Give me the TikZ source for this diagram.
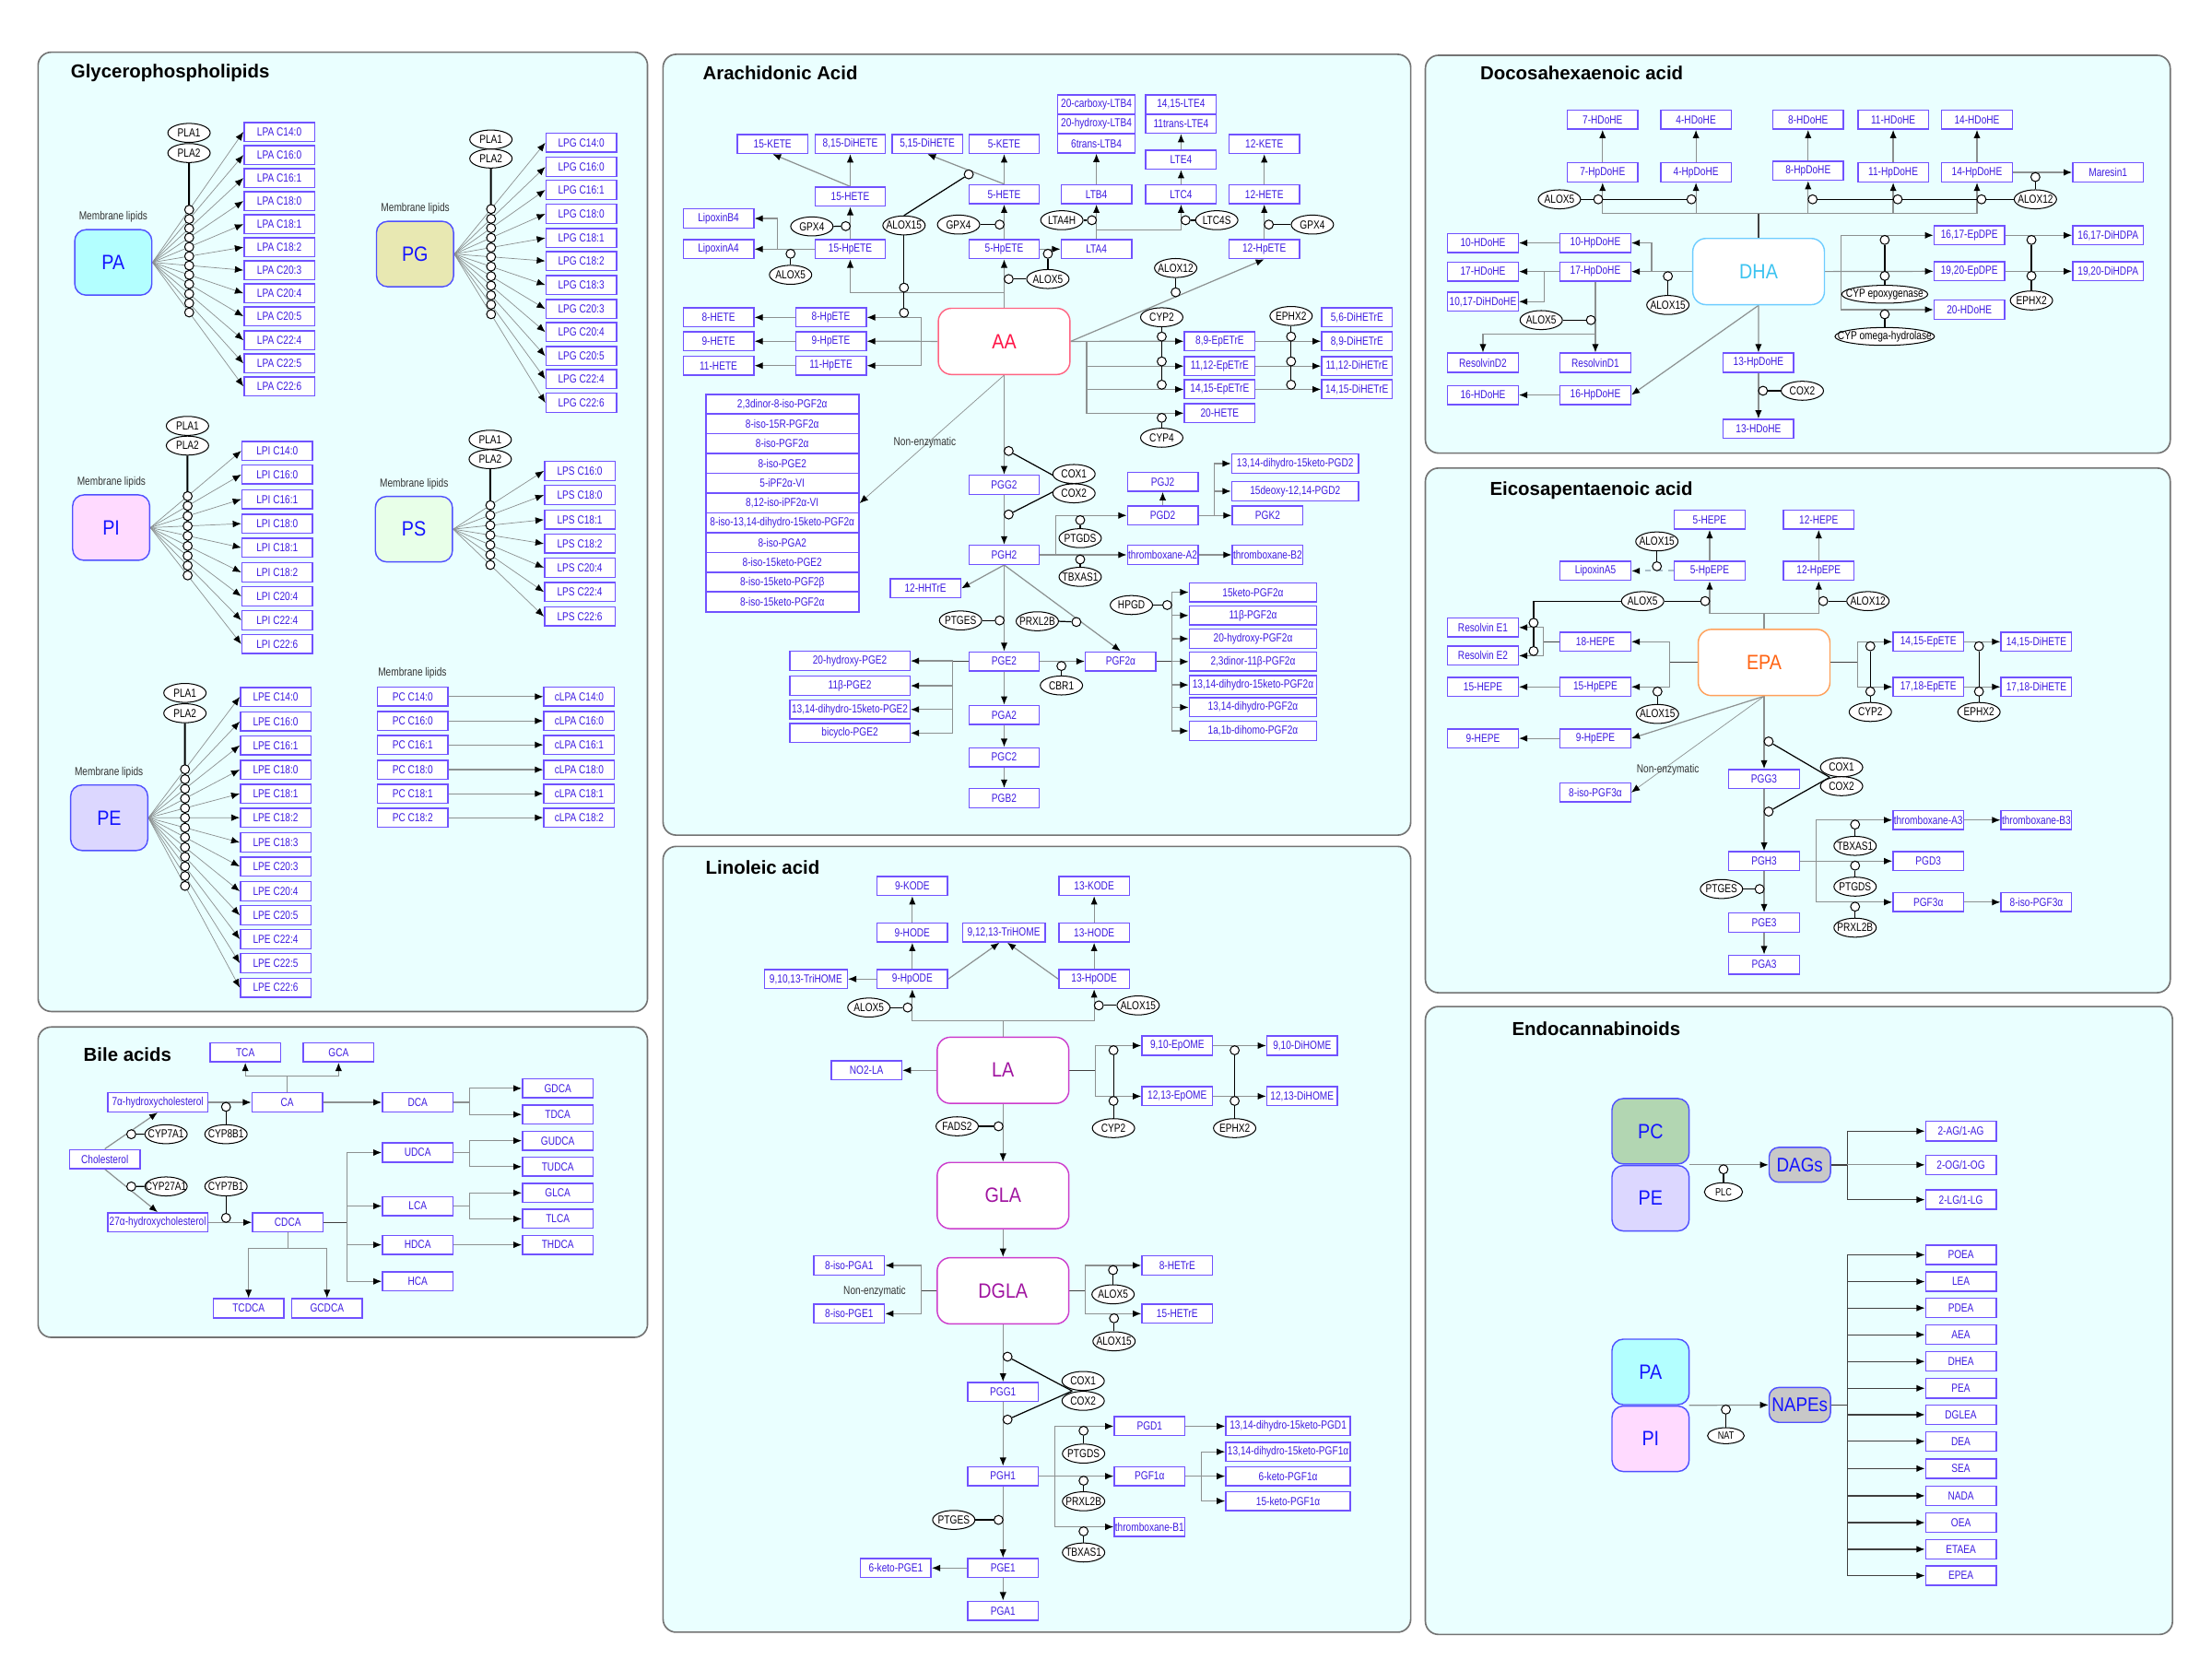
\documentclass[tikz,border=0pt]{standalone}
\usepackage{fontspec}
\setmainfont{Liberation Sans}
\newfontfamily\nrwf{Liberation Sans}[FakeStretch=0.8]
\newfontfamily\bigff{Liberation Sans}[FakeStretch=0.88]
\usetikzlibrary{arrows.meta,shapes.geometric,calc}
\pgfdeclarelayer{panl}
\pgfdeclarelayer{bgl}
\pgfsetlayers{panl,bgl,main}
\definecolor{bxc}{RGB}{112,82,255}
\definecolor{txc}{RGB}{62,28,225}
\definecolor{lnc}{RGB}{140,145,145}
\definecolor{lnd}{RGB}{170,190,200}
\definecolor{pnf}{RGB}{234,255,255}
\definecolor{pnb}{RGB}{115,115,115}
\definecolor{bigb}{RGB}{80,80,255}
\definecolor{bigt}{RGB}{20,20,255}
\definecolor{cPA}{RGB}{179,255,255}
\definecolor{cPG}{RGB}{232,232,178}
\definecolor{cPI}{RGB}{255,218,255}
\definecolor{cPS}{RGB}{232,255,232}
\definecolor{cPE}{RGB}{220,215,255}
\definecolor{cPC}{RGB}{178,214,178}
\definecolor{cDAG}{RGB}{200,200,200}
\definecolor{aab}{RGB}{255,100,130}
\definecolor{aat}{RGB}{255,20,70}
\definecolor{lab}{RGB}{204,60,204}
\definecolor{lat}{RGB}{160,20,160}
\definecolor{dhab}{RGB}{110,205,255}
\definecolor{dhat}{RGB}{60,195,240}
\definecolor{epab}{RGB}{255,160,90}
\definecolor{epat}{RGB}{255,100,20}
\newcommand\bxf{\nrwf\fontsize{6.2}{7}\selectfont}
\newcommand\smf{\nrwf\fontsize{5.6}{6.5}\selectfont}
\newcommand\bigf{\bigff\fontsize{11}{13}\selectfont}
\newcommand\midf{\bigff\fontsize{10.5}{12}\selectfont}
\newcommand\ttlf{\bfseries\fontsize{10}{12}\selectfont}
\newcommand\mz[1]{\makebox[0pt]{#1}}
\begin{document}
\begin{tikzpicture}[x=0.75pt,y=-0.75pt,
  bx/.style={rectangle,draw=bxc,line width=0.7pt,fill=white,text=txc,font=\bxf,inner sep=0.3pt,minimum width=37.5pt,minimum height=10.1pt},
  wd/.style={minimum width=#1*0.75pt},
  hd/.style={minimum height=#1*0.75pt},
  en/.style={ellipse,draw=black,line width=0.5pt,fill=white,font=\bxf,text=black,inner sep=0pt,minimum width=22.5pt,minimum height=10.1pt},
  cc/.style={circle,draw=black,line width=0.5pt,fill=white,inner sep=0pt,minimum size=4.8pt},
  ln/.style={draw=lnc,line width=0.6pt},
  rx/.style={draw=lnc,line width=0.6pt,-{Latex[length=4.5pt,width=3.6pt,color=black]}},
  rxk/.style={draw=black!75,line width=0.6pt,-{Latex[length=4.5pt,width=3.6pt,color=black]}},
  lnk/.style={draw=black!75,line width=0.7pt},
  rxt/.style={draw=lnc,line width=0.35pt,-{Latex[length=4.5pt,width=3.6pt,color=black]}},
  rxd/.style={draw=lnd,line width=1pt,dashed,-{Latex[length=4.5pt,width=3.6pt,color=black]}},
  cat/.style={draw=black,line width=0.6pt},
  vk/.style={draw=black,line width=1pt},
  big/.style={rectangle,rounded corners=6pt,draw=bigb,line width=0.7pt,text=bigt,font=\bigf,inner sep=0pt,minimum width=41pt,minimum height=34.8pt},
  fa/.style={rectangle,rounded corners=7pt,line width=0.7pt,fill=white,font=\bigf,inner sep=0pt,minimum width=70pt,minimum height=35.2pt},
  pan/.style={draw=pnb,fill=pnf,rounded corners=7pt,line width=0.8pt},
  ttl/.style={font=\ttlf,anchor=west,inner sep=0pt},
  mem/.style={font=\bxf,text=black!80,inner sep=0pt},
]
\useasboundingbox (0,0) rectangle (1568,1176);
\begin{pgfonlayer}{panl}
\fill[white] (0,0) rectangle (1568,1176);
\draw[pan] (27,37) rectangle (459,717);
\draw[pan] (27,728) rectangle (459,948);
\draw[pan] (470,38.5) rectangle (1000,592);
\draw[pan] (470,600) rectangle (1000,1157);
\draw[pan] (1010.4,39.2) rectangle (1538.4,321.2);
\draw[pan] (1010.4,331.8) rectangle (1538.4,703.7);
\draw[pan] (1010.4,713.5) rectangle (1540,1158.6);
\end{pgfonlayer}

% ================= Glycerophospholipids
\node[ttl] (tG) at (50,51.5) {Glycerophospholipids};
% PA
\node[mem] (mPA) at (80.3,153.7) {Membrane lipids};
\node[big,fill=cPA] (PA) at (80.3,186) {PA};
\node[en] (pla1a) at (134,94.2) {\mz{PLA1}};
\node[en] (pla2a) at (134,108.5) {\mz{PLA2}};
\foreach \yy/\lab [count=\i] in {93.5/C14:0,109.9/C16:0,126.2/C16:1,142.5/C18:0,158.9/C18:1,175.2/C18:2,191.5/C20:3,207.9/C20:4,224.2/C20:5,241.2/C22:4,257.6/C22:5,273.9/C22:6}{
  \node[bx] (lpa\i) at (198,\yy) {LPA \lab};
  \begin{pgfonlayer}{bgl}\draw[rxt] (PA.east) -- (lpa\i.west);\end{pgfonlayer}
  \node[cc] (lpac\i) at ($(PA.east)!0.4037!(lpa\i.west)$) {};
}
\begin{pgfonlayer}{bgl}\draw[vk] (pla2a.south) -- (lpac12.center);\end{pgfonlayer}
% PG
\node[mem] (mPG) at (294.4,147.9) {Membrane lipids};
\node[big,fill=cPG] (PG) at (294.2,180.1) {PG};
\node[en] (pla1b) at (348,98.9) {\mz{PLA1}};
\node[en] (pla2b) at (348,112.4) {\mz{PLA2}};
\foreach \yy/\lab [count=\i] in {101.2/C14:0,118.3/C16:0,134.6/C16:1,151.6/C18:0,168.7/C18:1,185/C18:2,202/C18:3,219/C20:3,235.4/C20:4,252.4/C20:5,268.7/C22:4,285.5/C22:6}{
  \node[bx] (lpg\i) at (412,\yy) {LPG \lab};
  \begin{pgfonlayer}{bgl}\draw[rxt] (PG.east) -- (lpg\i.west);\end{pgfonlayer}
  \node[cc] (lpgc\i) at ($(PG.east)!0.4046!(lpg\i.west)$) {};
}
\begin{pgfonlayer}{bgl}\draw[vk] (pla2b.south) -- (lpgc12.center);\end{pgfonlayer}
% PI
\node[mem] (mPI) at (79,341.8) {Membrane lipids};
\node[big,fill=cPI] (PI) at (78.8,374) {PI};
\node[en] (pla1c) at (132.9,301.9) {\mz{PLA1}};
\node[en] (pla2c) at (132.9,315.9) {\mz{PLA2}};
\foreach \yy/\lab [count=\i] in {319.6/C14:0,336.4/C16:0,353.9/C16:1,371.2/C18:0,388.2/C18:1,405.7/C18:2,422.7/C20:4,439.7/C22:4,456.6/C22:6}{
  \node[bx] (lpi\i) at (196.5,\yy) {LPI \lab};
  \begin{pgfonlayer}{bgl}\draw[rxt] (PI.east) -- (lpi\i.west);\end{pgfonlayer}
  \node[cc] (lpic\i) at ($(PI.east)!0.41!(lpi\i.west)$) {};
}
\begin{pgfonlayer}{bgl}\draw[vk] (pla2c.south) -- (lpic9.center);\end{pgfonlayer}
% PS
\node[mem] (mPS) at (293.5,343) {Membrane lipids};
\node[big,fill=cPS] (PS) at (293.4,375.1) {PS};
\node[en] (pla1d) at (347.5,311.7) {\mz{PLA1}};
\node[en] (pla2d) at (347.5,325.5) {\mz{PLA2}};
\foreach \yy/\lab [count=\i] in {333.8/C16:0,350.9/C18:0,368.4/C18:1,385.4/C18:2,402.4/C20:4,419.6/C22:4,437/C22:6}{
  \node[bx] (lps\i) at (411,\yy) {LPS \lab};
  \begin{pgfonlayer}{bgl}\draw[rxt] (PS.east) -- (lps\i.west);\end{pgfonlayer}
  \node[cc] (lpsc\i) at ($(PS.east)!0.41!(lps\i.west)$) {};
}
\begin{pgfonlayer}{bgl}\draw[vk] (pla2d.south) -- (lpsc7.center);\end{pgfonlayer}
% PE
\node[mem] (mPE) at (77.2,547.6) {Membrane lipids};
\node[big,fill=cPE] (PE) at (77.4,579.7) {PE};
\node[en] (pla1e) at (131.1,491.2) {\mz{PLA1}};
\node[en] (pla2e) at (131.1,505.6) {\mz{PLA2}};
\foreach \yy/\lab [count=\i] in {494/C14:0,511.5/C16:0,528.4/C16:1,545.6/C18:0,562.6/C18:1,579.6/C18:2,597.2/C18:3,614.2/C20:3,631.8/C20:4,648.8/C20:5,665.7/C22:4,682.7/C22:5,700.1/C22:6}{
  \node[bx] (lpe\i) at (195.4,\yy) {LPE \lab};
  \begin{pgfonlayer}{bgl}\draw[rxt] (PE.east) -- (lpe\i.west);\end{pgfonlayer}
  \node[cc] (lpec\i) at ($(PE.east)!0.401!(lpe\i.west)$) {};
}
\begin{pgfonlayer}{bgl}\draw[vk] (pla2e.south) -- (lpec13.center);\end{pgfonlayer}
% PC -> cLPA
\node[mem] (mPC) at (292.3,476.9) {Membrane lipids};
\foreach \yy/\lab [count=\i] in {493.8/C14:0,511/C16:0,528/C16:1,545.6/C18:0,562.6/C18:1,579.6/C18:2}{
  \node[bx] (pc\i) at (292.5,\yy) {PC \lab};
  \node[bx] (clpa\i) at (410.6,\yy) {cLPA \lab};
  \begin{pgfonlayer}{bgl}\draw[rx] (pc\i.east) -- (clpa\i.west);\end{pgfonlayer}
}

% ================= Bile acids
\node[ttl] (tB) at (59,747.6) {Bile acids};
\node[bx] (TCA) at (173.9,746) {TCA};
\node[bx] (GCA) at (240,746) {GCA};
\node[bx] (CA) at (203.6,781.4) {CA};
\node[bx,wd=71] (h7) at (111.8,781.4) {7α-hydroxycholesterol};
\node[bx] (chol) at (74.3,821.6) {Cholesterol};
\node[bx,wd=71] (h27) at (111.8,866.5) {27α-hydroxycholesterol};
\node[bx] (CDCA) at (204,866.5) {CDCA};
\node[en] (cyp7a1) at (117.7,804) {\mz{CYP7A1}};
\node[en] (cyp27a1) at (117.7,841) {\mz{CYP27A1}};
\node[en] (cyp8b1) at (160.2,804) {\mz{CYP8B1}};
\node[en] (cyp7b1) at (160.2,841) {\mz{CYP7B1}};
\node[bx] (DCA) at (296.1,781.4) {DCA};
\node[bx] (UDCA) at (296.1,817) {UDCA};
\node[bx] (LCA) at (296.1,854.9) {LCA};
\node[bx] (HDCA) at (296.1,882.4) {HDCA};
\node[bx] (HCA) at (296.1,908.3) {HCA};
\node[bx] (GDCA) at (395.4,771.5) {GDCA};
\node[bx] (TDCA) at (395.4,790) {TDCA};
\node[bx] (GUDCA) at (395.4,808.6) {GUDCA};
\node[bx] (TUDCA) at (395.4,827) {TUDCA};
\node[bx] (GLCA) at (395.4,845.6) {GLCA};
\node[bx] (TLCA) at (395.4,864) {TLCA};
\node[bx] (THDCA) at (395.4,882.4) {THDCA};
\node[bx] (TCDCA) at (176.2,927.4) {TCDCA};
\node[bx] (GCDCA) at (231.8,927.4) {GCDCA};
\node[cc] (cb1) at ($(chol.north)!0.5!(h7.south)+(0,2.5)$) {};
\node[cc] (cb2) at ($(chol.south)!0.5!(h27.north)+(0,-3)$) {};
\node[cc] (cb3) at (160.2,784.6) {};
\node[cc] (cb4) at (160.2,863.3) {};
\begin{pgfonlayer}{bgl}
\coordinate (caj) at (203.6,762.8);
\draw[ln] (CA.north) -- (caj);
\draw[rx] (caj) -| (TCA.south);
\draw[rx] (caj) -| (GCA.south);
\draw[rx] (h7.east) -- (CA.west);
\draw[rx] (chol.north) -- (h7.south);
\draw[rx] (chol.south) -- (h27.north);
\draw[rx] (h27.east) -- (CDCA.west);
\draw[cat] (cb1) -- (cyp7a1.west);
\draw[cat] (cb2) -- (cyp27a1.west);
\draw[cat] (cb3) -- (cyp8b1.north);
\draw[cat] (cb4) -- (cyp7b1.south);
\draw[rx] (CA.east) -- (DCA.west);
\coordinate (dcj) at (332.8,781.4);
\draw[ln] (DCA.east) -- (dcj);
\draw[rx] (dcj) |- (GDCA.west);
\draw[rx] (dcj) |- (TDCA.west);
\coordinate (udj) at (332.8,817);
\draw[ln] (UDCA.east) -- (udj);
\draw[rx] (udj) |- (GUDCA.west);
\draw[rx] (udj) |- (TUDCA.west);
\coordinate (lcj) at (332.8,854.9);
\draw[ln] (LCA.east) -- (lcj);
\draw[rx] (lcj) |- (GLCA.west);
\draw[rx] (lcj) |- (TLCA.west);
\draw[rx] (HDCA.east) -- (THDCA.west);
\coordinate (cdj) at (245.9,866.5);
\draw[lnk] (CDCA.east) -- (cdj);
\draw[rx] (cdj) |- (UDCA.west);
\draw[rx] (cdj) |- (LCA.west);
\draw[rx] (cdj) |- (HDCA.west);
\draw[rx] (cdj) |- (HCA.west);
\coordinate (cdS) at (204,884.7);
\draw[ln] (CDCA.south) -- (cdS);
\draw[rx] (cdS) -| (TCDCA.north);
\draw[rx] (cdS) -| (GCDCA.north);
\end{pgfonlayer}

% ================= Arachidonic acid
\node[ttl] (tAA) at (498,51.6) {Arachidonic Acid};
\node[bx] (k15) at (547.6,102) {15-KETE};
\node[bx] (dh815) at (602.7,102) {8,15-DiHETE};
\node[bx] (dh515) at (657.3,102) {5,15-DiHETE};
\node[bx] (k5) at (711.8,102) {5-KETE};
\node[bx,wd=55] (cLTB4) at (777.2,73.9) {20-carboxy-LTB4};
\node[bx,wd=55] (hLTB4) at (777.2,87.7) {20-hydroxy-LTB4};
\node[bx,wd=55] (tLTB4) at (777.2,101.7) {6trans-LTB4};
\node[bx] (lte1415) at (837.2,73.9) {14,15-LTE4};
\node[bx] (lte11) at (837.2,87.7) {11trans-LTE4};
\node[bx] (LTE4) at (837.2,113.2) {LTE4};
\node[bx] (k12) at (896.2,102) {12-KETE};
\node[bx] (h15) at (602.7,139.4) {15-HETE};
\node[bx] (h5) at (711.8,137.7) {5-HETE};
\node[bx] (LTB4) at (777.2,137.7) {LTB4};
\node[bx] (LTC4) at (837.2,137.7) {LTC4};
\node[bx] (h12) at (896.2,137.7) {12-HETE};
\node[bx] (LxB4) at (509.3,154.9) {LipoxinB4};
\node[bx] (LxA4) at (509.3,176.6) {LipoxinA4};
\node[bx] (hp15) at (602.7,176.6) {15-HpETE};
\node[bx] (hp5) at (711.8,176.6) {5-HpETE};
\node[bx] (LTA4) at (777.2,176.6) {LTA4};
\node[bx] (hp12) at (896.2,176.6) {12-HpETE};
\node[bx] (h8) at (509.3,225) {8-HETE};
\node[bx] (h9) at (509.3,241.9) {9-HETE};
\node[bx] (h11) at (509.3,259.2) {11-HETE};
\node[bx] (hp8) at (589,225) {8-HpETE};
\node[bx] (hp9) at (589,241.9) {9-HpETE};
\node[bx] (hp11) at (589,259.2) {11-HpETE};
\node[fa,draw=aab,text=aat] (AA) at (711.8,242) {AA};
\node[bx] (dh56) at (961.9,225) {5,6-DiHETrE};
\node[bx] (ep89) at (864.6,241.9) {8,9-EpETrE};
\node[bx] (dh89) at (961.9,241.9) {8,9-DiHETrE};
\node[bx] (ep1112) at (864.6,259.5) {11,12-EpETrE};
\node[bx] (dh1112) at (961.9,259.5) {11,12-DiHETrE};
\node[bx] (ep1415) at (864.6,276) {14,15-EpETrE};
\node[bx] (dh1415) at (961.9,276) {14,15-DiHETrE};
\node[bx] (h20) at (864.6,292.9) {20-HETE};
\node[en] (gpx4a) at (575.5,160.5) {\mz{GPX4}};
\node[en] (alox15a) at (640.8,159.8) {\mz{ALOX15}};
\node[en] (gpx4b) at (679.5,159.2) {\mz{GPX4}};
\node[en] (lta4h) at (752.7,156.1) {\mz{LTA4H}};
\node[en] (ltc4s) at (862.5,156.1) {\mz{LTC4S}};
\node[en] (gpx4c) at (930.3,159.2) {\mz{GPX4}};
\node[en] (alox5a) at (560.4,194.8) {\mz{ALOX5}};
\node[en] (alox5b) at (742.8,197.8) {\mz{ALOX5}};
\node[en] (alox12a) at (833.4,190) {\mz{ALOX12}};
\node[en] (cyp2a) at (823.5,224.9) {\mz{CYP2}};
\node[en] (ephx2a) at (915.2,224) {\mz{EPHX2}};
\node[en] (cyp4a) at (823.5,310.3) {\mz{CYP4}};
\node[cc] (ca1) at (640.8,203.9) {};
\node[cc] (ca2) at (640.8,221.7) {};
\node[cc] (ca3) at (686.7,123.6) {};
\node[cc] (ca4) at (599.5,160.3) {};
\node[cc] (ca5) at (560.4,179.9) {};
\node[cc] (ca6) at (708.6,159.2) {};
\node[cc] (ca7) at (742.8,179.9) {};
\node[cc] (ca8) at (715,197.8) {};
\node[cc] (ca9) at (774,156.1) {};
\node[cc] (ca10) at (840.4,156.1) {};
\node[cc] (ca11) at (899.4,159.2) {};
\node[cc] (ca12) at (833.4,207.2) {};
\node[cc] (cy1) at (823.5,238.6) {};
\node[cc] (cy2) at (823.5,256.2) {};
\node[cc] (cy3) at (823.5,272.7) {};
\node[cc] (cy4) at (823.5,296.2) {};
\node[cc] (eh1) at (915.2,238.6) {};
\node[cc] (eh2) at (915.2,256.2) {};
\node[cc] (eh3) at (915.2,272.7) {};
% lower AA
\foreach \yy/\lab [count=\i] in {286.6/{2,3dinor-8-iso-PGF2α},300.7/{8-iso-15R-PGF2α},314.4/{8-iso-PGF2α},328.8/{8-iso-PGE2},342.5/{5-iPF2α-VI},356.7/{8,12-iso-iPF2α-VI},370.6/{8-iso-13,14-dihydro-15keto-PGF2α},384.7/{8-iso-PGA2},398.7/{8-iso-15keto-PGE2},412.8/{8-iso-15keto-PGF2β},426.7/{8-iso-15keto-PGF2α}}{
  \node[bx,wd=108.5,hd=14,line width=0.9pt] (iso\i) at (554.5,\yy) {\lab};
}
\node[mem] (nenz1) at (655.5,313.6) {Non-enzymatic};
\node[bx] (PGG2) at (711.8,343.6) {PGG2};
\node[en] (cox1a) at (761.3,336) {\mz{COX1}};
\node[en] (cox2a) at (761.3,349.7) {\mz{COX2}};
\node[bx] (PGH2) at (711.8,393.3) {PGH2};
\node[bx] (PGJ2) at (824.2,341.5) {PGJ2};
\node[bx] (PGD2) at (824.2,365.4) {PGD2};
\node[bx,wd=90] (d2a) at (918.1,328.6) {13,14-dihydro-15keto-PGD2};
\node[bx,wd=90] (d2b) at (918.1,348.2) {15deoxy-12,14-PGD2};
\node[bx] (PGK2) at (898.6,365.4) {PGK2};
\node[bx] (txA2) at (824.2,393.3) {thromboxane-A2};
\node[bx] (txB2) at (898.6,393.3) {thromboxane-B2};
\node[en] (ptgds) at (765.7,381.5) {\mz{PTGDS}};
\node[en] (tbxas1) at (765.7,408.9) {\mz{TBXAS1}};
\node[bx] (h12t) at (656,417.1) {12-HHTrE};
\node[en] (ptges) at (680.9,439.8) {\mz{PTGES}};
\node[en] (prxl2b) at (735.3,440.4) {\mz{PRXL2B}};
\node[en] (hpgd) at (802,428.9) {\mz{HPGD}};
\node[bx] (PGE2) at (711.8,468.8) {PGE2};
\node[bx] (PGF2a) at (794.4,468.8) {PGF2α};
\node[en] (cbr1) at (752.4,485.9) {\mz{CBR1}};
\node[bx] (PGA2) at (711.8,506.8) {PGA2};
\node[bx] (PGC2) at (711.8,536.8) {PGC2};
\node[bx] (PGB2) at (711.8,565.8) {PGB2};
\foreach \yy/\lab [count=\i] in {419.8/{15keto-PGF2α},436.3/{11β-PGF2α},452.8/{20-hydroxy-PGF2α},469/{2,3dinor-11β-PGF2α},485.5/{13,14-dihydro-15keto-PGF2α},501.4/{13,14-dihydro-PGF2α},518.1/{1a,1b-dihomo-PGF2α}}{
  \node[bx,wd=90.3] (f2\i) at (888.2,\yy) {\lab};
}
\foreach \yy/\lab [count=\i] in {468.5/{20-hydroxy-PGE2},486.1/{11β-PGE2},502.9/{13,14-dihydro-15keto-PGE2},519.6/{bicyclo-PGE2}}{
  \node[bx,wd=85.2] (e2\i) at (602.4,\yy) {\lab};
}
\node[cc] (cx1) at (715,319.7) {};
\node[cc] (cx2) at (715,364.7) {};
\node[cc] (cpt1) at (765.7,368.7) {};
\node[cc] (ctb1) at (765.7,396.6) {};
\node[cc] (cpg1) at (708.6,439.8) {};
\node[cc] (cpx1) at (763,440.9) {};
\node[cc] (ccb1) at (752.4,472.1) {};
\node[cc] (chp1) at (827.4,428.9) {};
\begin{pgfonlayer}{bgl}
\coordinate (aaN) at (711.8,207.2);
\draw[rx] (AA.north) -- (hp5.south);
\draw[rx] (aaN) -| (hp15.south);
\draw[cat] (alox15a.south) -- (ca2);
\draw[cat] (alox15a.north) -- (ca3);
\draw[rx] (h5.north) -- (dh515.south);
\draw[rx] (h5.north) -- (k5.south);
\draw[rx] (h15.north) -- (k15.south);
\draw[rx] (h15.north) -- (dh815.south);
\draw[rx] (hp15.north) -- (h15.south);
\draw[cat] (gpx4a.east) -- (ca4);
\coordinate (lxj) at (551.2,176.6);
\draw[rx] (hp15.west) -- (LxA4.east);
\draw[rx] (lxj) |- (LxB4.east);
\draw[cat] (alox5a.north) -- (ca5);
\draw[rx] (hp5.north) -- (h5.south);
\draw[cat] (gpx4b.east) -- (ca6);
\draw[rx] (hp5.east) -- (LTA4.west);
\draw[cat] (alox5b.north) -- (ca7);
\draw[cat] (alox5b.west) -- (ca8);
\draw[rx] (LTA4.north) -- (LTB4.south);
\draw[cat] (lta4h.east) -- (ca9);
\coordinate (ltj) at (777.2,163.1);
\draw[rx] (ltj) -| (LTC4.south);
\draw[cat] (ltc4s.west) -- (ca10);
\draw[rx] (LTC4.north) -- (LTE4.south);
\draw[rx] (LTE4.north) -- (lte11.south);
\draw[rx] (LTB4.north) -- (tLTB4.south);
\draw[rx] (hp12.north) -- (h12.south);
\draw[cat] (gpx4c.west) -- (ca11);
\draw[rx] (h12.north) -- (k12.south);
\draw[rx] (AA.east) -- (hp12.south);
\draw[cat] (alox12a.south) -- (ca12);
\coordinate (aaW) at (653.1,242);
\draw[rx] (AA.west) -- (hp9.east);
\draw[rx] (aaW) |- (hp8.east);
\draw[rx] (aaW) |- (hp11.east);
\draw[rx] (hp8.west) -- (h8.east);
\draw[rx] (hp9.west) -- (h9.east);
\draw[rx] (hp11.west) -- (h11.east);
\coordinate (aaE) at (770.2,242);
\draw[rx] (AA.east) -- (ep89.west);
\draw[rx] (aaE) |- (ep1112.west);
\draw[rx] (aaE) |- (ep1415.west);
\draw[rx] (aaE) |- (h20.west);
\draw[cat] (cyp2a.south) -- (cy3);
\draw[cat] (cyp4a.north) -- (cy4);
\draw[rx] (ep89.east) -- (dh89.west);
\draw[rx] (ep1112.east) -- (dh1112.west);
\draw[rx] (ep1415.east) -- (dh1415.west);
\draw[cat] (ephx2a.south) -- (eh3);
\draw[rxt] (AA.south) -- (iso6.east);
\draw[rx] (AA.south) -- (PGG2.north);
\draw[cat] (cx1) -- (757.5,343);
\draw[cat] (cx2) -- (757.5,343);
\draw[rx] (PGG2.south) -- (PGH2.north);
\draw[rx] (PGH2.east) -- (txA2.west);
\coordinate (pgj) at (748.6,393.3);
\draw[rx] (pgj) |- (PGD2.west);
\draw[cat] (ptgds.north) -- (cpt1);
\draw[cat] (tbxas1.north) -- (ctb1);
\draw[rx] (PGD2.north) -- (PGJ2.south);
\coordinate (pdj) at (860.8,365.4);
\draw[rx] (PGD2.east) -- (PGK2.west);
\draw[rx] (pdj) |- (d2a.west);
\draw[rx] (pdj) |- (d2b.west);
\draw[rx] (txA2.east) -- (txB2.west);
\draw[rx] (PGH2.south) -- (h12t.east);
\draw[rx] (PGH2.south) -- (PGE2.north);
\draw[cat] (ptges.east) -- (cpg1);
\draw[rx] (PGH2.south) -- (PGF2a.north);
\draw[cat] (prxl2b.east) -- (cpx1);
\draw[rx] (PGE2.east) -- (PGF2a.west);
\draw[cat] (cbr1.north) -- (ccb1);
\coordinate (pfj) at (830.7,468.8);
\draw[lnk] (PGF2a.east) -- (pfj);
\foreach \i in {1,...,7}{\draw[rx] (pfj) |- (f2\i.west);}
\draw[cat] (hpgd.east) -- (chp1);
\coordinate (pej) at (675.4,468.8);
\draw[lnk] (PGE2.west) -- (pej);
\foreach \i in {1,...,4}{\draw[rx] (pej) |- (e2\i.east);}
\draw[rx] (PGE2.south) -- (PGA2.north);
\draw[rx] (PGA2.south) -- (PGC2.north);
\draw[rx] (PGC2.south) -- (PGB2.north);
\end{pgfonlayer}

% ================= Linoleic acid
\node[ttl] (tLA) at (500,614.8) {Linoleic acid};
\node[bx] (kode9) at (646.7,628) {9-KODE};
\node[bx] (kode13) at (775.6,628) {13-KODE};
\node[bx] (hode9) at (646.7,661) {9-HODE};
\node[bx,wd=58.5] (tri91213) at (711.5,661) {9,12,13-TriHOME};
\node[bx] (hode13) at (775.6,661) {13-HODE};
\node[bx,wd=58.5] (tri91013) at (571.3,694) {9,10,13-TriHOME};
\node[bx] (hpode9) at (646.7,694) {9-HpODE};
\node[bx] (hpode13) at (775.6,694) {13-HpODE};
\node[en] (alox5l) at (615.9,714.2) {\mz{ALOX5}};
\node[en] (alox15l) at (806.8,712.7) {\mz{ALOX15}};
\node[fa,draw=lab,text=lat] (LA) at (711,758.7) {LA};
\node[bx] (no2la) at (614.2,758.7) {NO2-LA};
\node[bx] (ep910) at (834.5,741.2) {9,10-EpOME};
\node[bx] (ep1213) at (834.5,777.1) {12,13-EpOME};
\node[bx] (dh910) at (923,741.2) {9,10-DiHOME};
\node[bx] (dh1213) at (923,777.1) {12,13-DiHOME};
\node[en] (cyp2l) at (789.3,799.7) {\mz{CYP2}};
\node[en] (ephx2l) at (875.2,799.7) {\mz{EPHX2}};
\node[en] (fads2) at (678.5,798.4) {\mz{FADS2}};
\node[fa,draw=lab,text=lat] (GLA) at (711,847.5) {GLA};
\node[fa,draw=lab,text=lat] (DGLA) at (711,915) {DGLA};
\node[bx] (isoPGA1) at (601.9,897) {8-iso-PGA1};
\node[bx] (isoPGE1) at (601.9,931.2) {8-iso-PGE1};
\node[mem] (nenz2) at (620,915.3) {Non-enzymatic};
\node[bx] (hetre8) at (834.5,897) {8-HETrE};
\node[bx] (hetre15) at (834.5,931.2) {15-HETrE};
\node[en] (alox5d) at (789,917.5) {\mz{ALOX5}};
\node[en] (alox15d) at (789.7,950.8) {\mz{ALOX15}};
\node[bx] (PGG1) at (711,986.7) {PGG1};
\node[en] (cox1d) at (767.8,978.9) {\mz{COX1}};
\node[en] (cox2d) at (767.8,993) {\mz{COX2}};
\node[bx] (PGH1) at (711,1046.4) {PGH1};
\node[bx] (PGD1) at (814.9,1011) {PGD1};
\node[bx,wd=88.3] (d1a) at (913.1,1011) {13,14-dihydro-15keto-PGD1};
\node[bx] (PGF1a) at (814.9,1046.4) {PGF1α};
\node[bx,wd=88.3] (f1a) at (913.1,1029.1) {13,14-dihydro-15keto-PGF1α};
\node[bx,wd=88.3] (f1b) at (913.1,1046.4) {6-keto-PGF1α};
\node[bx,wd=88.3] (f1c) at (913.1,1064) {15-keto-PGF1α};
\node[bx] (txB1) at (814.9,1082.3) {thromboxane-B1};
\node[en] (ptgdsd) at (768.1,1030.4) {\mz{PTGDS}};
\node[en] (prxl2bd) at (768.1,1064.2) {\mz{PRXL2B}};
\node[en] (tbxas1d) at (768.1,1100.5) {\mz{TBXAS1}};
\node[en] (ptgesd) at (676.1,1077.4) {\mz{PTGES}};
\node[bx] (PGE1) at (711,1111.5) {PGE1};
\node[bx] (k6pge1) at (635,1111.5) {6-keto-PGE1};
\node[bx] (PGA1) at (711,1141.8) {PGA1};
\node[cc] (cl1) at (643.4,714.2) {};
\node[cc] (cl2) at (778.9,712.7) {};
\node[cc] (cl3) at (789.3,744.5) {};
\node[cc] (cl4) at (789.3,780.4) {};
\node[cc] (cl5) at (875.2,744.5) {};
\node[cc] (cl6) at (875.2,780.4) {};
\node[cc] (cl7) at (707.8,798.4) {};
\node[cc] (cl8) at (789,900.3) {};
\node[cc] (cl9) at (789.7,934.5) {};
\node[cc] (cl10) at (714.2,961.7) {};
\node[cc] (cl11) at (714.2,1006.3) {};
\node[cc] (cl12) at (768.1,1014.2) {};
\node[cc] (cl13) at (768.1,1049.6) {};
\node[cc] (cl14) at (768.1,1085.5) {};
\node[cc] (cl15) at (707.8,1077.4) {};
\begin{pgfonlayer}{bgl}
\coordinate (laN) at (711,723.6);
\draw[ln] (LA.north) -- (laN);
\draw[rx] (laN) -| (hpode9.south);
\draw[rx] (laN) -| (hpode13.south);
\draw[cat] (alox5l.east) -- (cl1);
\draw[cat] (alox15l.west) -- (cl2);
\draw[rx] (hpode9.north) -- (hode9.south);
\draw[rx] (hode9.north) -- (kode9.south);
\draw[rx] (hpode13.north) -- (hode13.south);
\draw[rx] (hode13.north) -- (kode13.south);
\draw[rx] (hpode9.west) -- (tri91013.east);
\draw[rx] (hpode9.east) -- ($(tri91213.south)+(-3,0)$);
\draw[rx] (hpode13.west) -- ($(tri91213.south)+(2.5,0)$);
\draw[rx] (LA.west) -- (no2la.east);
\coordinate (laE) at (776.3,758.7);
\draw[lnk] (LA.east) -- (laE);
\draw[rx] (laE) |- (ep910.west);
\draw[rx] (laE) |- (ep1213.west);
\draw[cat] (cyp2l.north) -- (cl3);
\draw[rx] (ep910.east) -- (dh910.west);
\draw[rx] (ep1213.east) -- (dh1213.west);
\draw[cat] (ephx2l.north) -- (cl5);
\draw[rx] (LA.south) -- (GLA.north);
\draw[cat] (fads2.east) -- (cl7);
\draw[rx] (GLA.south) -- (DGLA.north);
\coordinate (dgW) at (652.8,915);
\draw[lnk] (DGLA.west) -- (dgW);
\draw[rx] (dgW) |- (isoPGA1.east);
\draw[rx] (dgW) |- (isoPGE1.east);
\coordinate (dgE) at (769.5,915);
\draw[lnk] (DGLA.east) -- (dgE);
\draw[rx] (dgE) |- (hetre8.west);
\draw[rx] (dgE) |- (hetre15.west);
\draw[cat] (alox5d.north) -- (cl8);
\draw[cat] (alox15d.north) -- (cl9);
\draw[rx] (DGLA.south) -- (PGG1.north);
\draw[cat] (cl10) -- (760,986);
\draw[cat] (cl11) -- (760,986);
\draw[rx] (PGG1.south) -- (PGH1.north);
\draw[rx] (PGH1.east) -- (PGF1a.west);
\coordinate (p1j) at (747.9,1046.4);
\draw[rx] (p1j) |- (PGD1.west);
\draw[rx] (p1j) |- (txB1.west);
\draw[cat] (ptgdsd.north) -- (cl12);
\draw[cat] (prxl2bd.north) -- (cl13);
\draw[cat] (tbxas1d.north) -- (cl14);
\draw[rx] (PGD1.east) -- (d1a.west);
\coordinate (f1j) at (851.6,1046.4);
\draw[rx] (PGF1a.east) -- (f1b.west);
\draw[rx] (f1j) |- (f1a.west);
\draw[rx] (f1j) |- (f1c.west);
\draw[rx] (PGH1.south) -- (PGE1.north);
\draw[cat] (ptgesd.east) -- (cl15);
\draw[rx] (PGE1.west) -- (k6pge1.east);
\draw[rx] (PGE1.south) -- (PGA1.north);
\end{pgfonlayer}

% ================= DHA
\node[ttl] (tDHA) at (1049.1,51.6) {Docosahexaenoic acid};
\node[bx] (hd7) at (1136,84.8) {7-HDoHE};
\node[bx] (hd4) at (1202.2,84.8) {4-HDoHE};
\node[bx] (hd8) at (1281.7,84.8) {8-HDoHE};
\node[bx] (hd11) at (1342,84.8) {11-HDoHE};
\node[bx] (hd14) at (1401.4,84.8) {14-HDoHE};
\node[bx] (hpd7) at (1136,122.2) {7-HpDoHE};
\node[bx] (hpd4) at (1202.2,122.2) {4-HpDoHE};
\node[bx] (hpd8) at (1281.7,121) {8-HpDoHE};
\node[bx] (hpd11) at (1342,122.2) {11-HpDoHE};
\node[bx] (hpd14) at (1401.4,122.2) {14-HpDoHE};
\node[bx] (maresin) at (1494.3,122.2) {Maresin1};
\node[en] (alox5t) at (1105.4,141.3) {\mz{ALOX5}};
\node[en] (alox12t) at (1442.8,141.3) {\mz{ALOX12}};
\node[fa,draw=dhab,text=dhat] (DHA) at (1246.6,192.5) {DHA};
\node[bx] (hd10) at (1051.2,172.2) {10-HDoHE};
\node[bx] (hd17) at (1051.2,192.5) {17-HDoHE};
\node[bx] (dhd1017) at (1051.2,213.8) {10,17-DiHDoHE};
\node[bx] (hpd10) at (1130.9,172.2) {10-HpDoHE};
\node[bx] (hpd17) at (1130.9,192.5) {17-HpDoHE};
\node[en] (alox15t) at (1182.3,216.2) {\mz{ALOX15}};
\node[en] (alox5m) at (1092.5,226.9) {\mz{ALOX5}};
\node[bx] (rvD2) at (1051.2,257.1) {ResolvinD2};
\node[bx] (rvD1) at (1130.9,257.1) {ResolvinD1};
\node[bx] (hpd13) at (1246.5,257.1) {13-HpDoHE};
\node[bx] (hd13) at (1246.5,304) {13-HDoHE};
\node[en] (cox2t) at (1277.6,277) {\mz{COX2}};
\node[bx] (hd16) at (1051.2,280) {16-HDoHE};
\node[bx] (hpd16) at (1130.9,280) {16-HpDoHE};
\node[bx] (ep1617) at (1396,166.8) {16,17-EpDPE};
\node[bx] (ep1920) at (1396,192.3) {19,20-EpDPE};
\node[bx] (hd20) at (1396,219.5) {20-HDoHE};
\node[bx] (dh1617) at (1494.3,166.8) {16,17-DiHDPA};
\node[bx] (dh1920) at (1494.3,192.3) {19,20-DiHDPA};
\node[en,minimum width=45.8pt,minimum height=9.5pt] (cype) at (1336,208.6) {\mz{CYP epoxygenase}};
\node[en,minimum width=52.9pt,minimum height=9.5pt] (cypo) at (1336,238.5) {\mz{CYP omega-hydrolase}};
\node[en] (ephx2t) at (1440,213) {\mz{EPHX2}};
\node[cc] (cd0) at (1442.8,125.5) {};
\node[cc] (cd1) at (1132.9,141.3) {};
\node[cc] (cd2) at (1199,141.3) {};
\node[cc] (cd3) at (1284.9,141.3) {};
\node[cc] (cd4) at (1345.2,141.3) {};
\node[cc] (cd5) at (1404.6,141.3) {};
\node[cc] (cd6) at (1182.3,195.8) {};
\node[cc] (cd7) at (1127.7,226.9) {};
\node[cc] (cd8) at (1249.7,277) {};
\node[cc] (cd9) at (1336,170.1) {};
\node[cc] (cd10) at (1336,195.6) {};
\node[cc] (cd11) at (1336,222.8) {};
\node[cc] (cd12) at (1440,170.1) {};
\node[cc] (cd13) at (1440,195.6) {};
\begin{pgfonlayer}{bgl}
\coordinate (dhN) at (1246.6,151.3);
\draw[lnk] (DHA.north) -- (dhN);
\foreach \n in {hpd7,hpd4,hpd8,hpd11,hpd14}{\draw[rx] (dhN) -| (\n.south);}
\draw[rx] (hpd7.north) -- (hd7.south);
\draw[rx] (hpd4.north) -- (hd4.south);
\draw[rx] (hpd8.north) -- (hd8.south);
\draw[rx] (hpd11.north) -- (hd11.south);
\draw[rx] (hpd14.north) -- (hd14.south);
\draw[rx] (hpd14.east) -- (maresin.west);
\draw[cat] (alox12t.north) -- (cd0);
\draw[cat] (alox5t.east) -- (cd2);
\draw[cat] (alox12t.west) -- (cd3);
\coordinate (dhW) at (1170.8,192.5);
\draw[rx] (DHA.west) -- (hpd17.east);
\draw[rx] (dhW) |- (hpd10.east);
\draw[cat] (alox15t.north) -- (cd6);
\draw[rx] (hpd10.west) -- (hd10.east);
\draw[rx] (hpd17.west) -- (hd17.east);
\coordinate (h17j) at (1094.5,192.5);
\draw[rx] (h17j) |- (dhd1017.east);
\draw[rx] (hpd17.south) -- (rvD1.north);
\coordinate (rvj) at (1130.9,237);
\draw[rx] (rvj) -| (rvD2.north);
\draw[cat] (alox5m.east) -- (cd7);
\draw[rx] (DHA.south) -- (hpd13.north);
\draw[rx] (hpd13.south) -- (hd13.north);
\draw[cat] (cox2t.west) -- (cd8);
\draw[rx] (DHA.south) -- (hpd16.east);
\draw[rx] (hpd16.west) -- (hd16.east);
\coordinate (dhE) at (1304.8,192.5);
\draw[rx] (DHA.east) -- (ep1920.west);
\draw[rx] (dhE) |- (ep1617.west);
\draw[rx] (dhE) |- (hd20.west);
\draw[cat] (cype.north) -- (cd9);
\draw[cat] (cypo.north) -- (cd11);
\draw[rx] (ep1617.east) -- (dh1617.west);
\draw[rx] (ep1920.east) -- (dh1920.west);
\draw[cat] (ephx2t.north) -- (cd12);
\end{pgfonlayer}

% ================= EPA
\node[ttl] (tEPA) at (1055.9,347.5) {Eicosapentaenoic acid};
\node[bx] (hepe5) at (1211.9,368.4) {5-HEPE};
\node[bx] (hepe12) at (1289.2,368.4) {12-HEPE};
\node[bx] (lxa5) at (1130.9,404.7) {LipoxinA5};
\node[bx] (hpepe5) at (1211.9,404.7) {5-HpEPE};
\node[bx] (hpepe12) at (1289.2,404.7) {12-HpEPE};
\node[en] (alox15e1) at (1174.5,383.8) {\mz{ALOX15}};
\node[en] (alox5e) at (1164.4,426.1) {\mz{ALOX5}};
\node[en] (alox12e) at (1324.1,426.1) {\mz{ALOX12}};
\node[fa,draw=epab,text=epat] (EPA) at (1250.5,469.6) {EPA};
\node[bx] (rve1) at (1051.2,444.8) {Resolvin E1};
\node[bx] (rve2) at (1051.2,464.8) {Resolvin E2};
\node[bx] (hepe18) at (1130.9,454.9) {18-HEPE};
\node[bx] (hepe15) at (1051.2,486.9) {15-HEPE};
\node[bx] (hpepe15) at (1130.9,486.9) {15-HpEPE};
\node[en] (alox15e2) at (1174.9,506.1) {\mz{ALOX15}};
\node[bx] (hepe9) at (1051.2,523.4) {9-HEPE};
\node[bx] (hpepe9) at (1130.9,523.4) {9-HpEPE};
\node[bx] (isoPGF3a) at (1130.9,561.7) {8-iso-PGF3α};
\node[mem] (nenz3) at (1182.3,545.8) {Non-enzymatic};
\node[bx] (ep1415e) at (1366.9,454.9) {14,15-EpETE};
\node[bx] (ep1718e) at (1366.9,486.9) {17,18-EpETE};
\node[bx] (dh1415e) at (1443.5,454.9) {14,15-DiHETE};
\node[bx] (dh1718e) at (1443.5,486.9) {17,18-DiHETE};
\node[en] (cyp2e) at (1325.8,504.7) {\mz{CYP2}};
\node[en] (ephx2e) at (1402.8,504.7) {\mz{EPHX2}};
\node[bx] (PGG3) at (1250.5,552.2) {PGG3};
\node[en] (cox1e) at (1305.4,543.9) {\mz{COX1}};
\node[en] (cox2e) at (1305.4,557.3) {\mz{COX2}};
\node[bx] (PGH3) at (1250.5,610.4) {PGH3};
\node[bx] (txA3) at (1366.9,581.3) {thromboxane-A3};
\node[bx] (txB3) at (1443.5,581.3) {thromboxane-B3};
\node[bx] (PGD3) at (1366.9,610.4) {PGD3};
\node[bx] (PGF3a) at (1366.9,639.5) {PGF3α};
\node[bx] (isoPGF3ar) at (1443.5,639.5) {8-iso-PGF3α};
\node[en] (tbxas1e) at (1315,599.6) {\mz{TBXAS1}};
\node[en] (ptgdse) at (1315,628.5) {\mz{PTGDS}};
\node[en] (prxl2be) at (1315,657.6) {\mz{PRXL2B}};
\node[en] (ptgese) at (1220.3,630.2) {\mz{PTGES}};
\node[bx] (PGE3) at (1250.5,654) {PGE3};
\node[bx] (PGA3) at (1250.5,683.8) {PGA3};
\node[cc] (ce1) at (1174.5,401.4) {};
\node[cc] (ce2) at (1208.7,426.1) {};
\node[cc] (ce3) at (1292.4,426.1) {};
\node[cc] (ce4) at (1087.1,441.5) {};
\node[cc] (ce5) at (1087.1,461.5) {};
\node[cc] (ce6) at (1174.9,490.2) {};
\node[cc] (ce7) at (1325.8,458.1) {};
\node[cc] (ce8) at (1325.8,490.2) {};
\node[cc] (ce9) at (1402.8,458.1) {};
\node[cc] (ce10) at (1402.8,490.2) {};
\node[cc] (ce11) at (1253.7,525.6) {};
\node[cc] (ce12) at (1253.7,575.3) {};
\node[cc] (ce13) at (1315,584.5) {};
\node[cc] (ce14) at (1315,613.6) {};
\node[cc] (ce15) at (1315,642.7) {};
\node[cc] (ce16) at (1247.3,630.2) {};
\begin{pgfonlayer}{bgl}
\draw[rx] (hpepe5.north) -- (hepe5.south);
\draw[rx] (hpepe12.north) -- (hepe12.south);
\draw[rxd] (hpepe5.west) -- (lxa5.east);
\draw[cat] (alox15e1.south) -- (ce1);
\coordinate (epN) at (1250.5,434.7);
\draw[ln] (EPA.north) -- (epN);
\draw[rx] (epN) -| (hpepe5.south);
\draw[rx] (epN) -| (hpepe12.south);
\draw[cat] (alox5e.east) -- (ce2);
\draw[cat] (alox12e.west) -- (ce3);
\draw[cat] (alox5e.west) -| (ce5);
\coordinate (rvj2) at (1094.2,454.9);
\draw[lnk] (hepe18.west) -- (rvj2);
\draw[rx] (rvj2) |- (rve1.east);
\draw[rx] (rvj2) |- (rve2.east);
\coordinate (epW) at (1183.4,469.6);
\draw[lnk] (EPA.west) -- (epW);
\draw[rx] (epW) |- (hepe18.east);
\draw[rx] (epW) |- (hpepe15.east);
\draw[rx] (hpepe15.west) -- (hepe15.east);
\draw[cat] (alox15e2.north) -- (ce6);
\draw[rx] (EPA.south) -- (hpepe9.east);
\draw[rx] (hpepe9.west) -- (hepe9.east);
\draw[rxt] (EPA.south) -- (isoPGF3a.east);
\coordinate (epE) at (1316.6,469.6);
\draw[lnk] (EPA.east) -- (epE);
\draw[rx] (epE) |- (ep1415e.west);
\draw[rx] (epE) |- (ep1718e.west);
\draw[cat] (cyp2e.north) -- (ce7);
\draw[rx] (ep1415e.east) -- (dh1415e.west);
\draw[rx] (ep1718e.east) -- (dh1718e.west);
\draw[cat] (ephx2e.north) -- (ce9);
\draw[rx] (EPA.south) -- (PGG3.north);
\draw[cat] (ce11) -- (1297,551);
\draw[cat] (ce12) -- (1297,551);
\draw[rx] (PGG3.south) -- (PGH3.north);
\draw[rx] (PGH3.east) -- (PGD3.west);
\coordinate (p3j) at (1287.5,610.4);
\draw[rx] (p3j) |- (txA3.west);
\draw[rx] (p3j) |- (PGF3a.west);
\draw[cat] (tbxas1e.north) -- (ce13);
\draw[cat] (ptgdse.north) -- (ce14);
\draw[cat] (prxl2be.north) -- (ce15);
\draw[rx] (txA3.east) -- (txB3.west);
\draw[rx] (PGF3a.east) -- (isoPGF3ar.west);
\draw[rx] (PGH3.south) -- (PGE3.north);
\draw[cat] (ptgese.east) -- (ce16);
\draw[rx] (PGE3.south) -- (PGA3.north);
\end{pgfonlayer}

% ================= Endocannabinoids
\node[ttl] (tEC) at (1071.6,729.4) {Endocannabinoids};
\node[big,fill=cPC] (PC2) at (1170,801.9) {PC};
\node[big,fill=cPE] (PE2) at (1170,849.4) {PE};
\node[big,fill=cDAG,minimum width=32.6pt,minimum height=18.5pt,rounded corners=5pt,font=\midf] (DAGs) at (1275.8,825.7) {DAGs};
\node[en,minimum width=20.3pt,minimum height=9.8pt,font=\smf] (plc) at (1221.7,844.9) {\mz{PLC}};
\node[bx,hd=13.8] (ag) at (1390,801.8) {2-AG/1-AG};
\node[bx,hd=13.8] (og) at (1390,825.7) {2-OG/1-OG};
\node[bx,hd=13.8] (lg) at (1390,850.4) {2-LG/1-LG};
\node[big,fill=cPA] (PA2) at (1170,972.5) {PA};
\node[big,fill=cPI] (PI2) at (1170,1019.9) {PI};
\node[big,fill=cDAG,minimum width=32.6pt,minimum height=18.5pt,rounded corners=5pt,font=\midf] (NAPEs) at (1275.8,995.9) {NAPEs};
\node[en,minimum width=19.5pt,minimum height=8.5pt,font=\smf] (nat) at (1223.4,1017.7) {\mz{NAT}};
\foreach \yy/\lab [count=\i] in {889.5/POEA,908.5/LEA,927.2/PDEA,946.1/AEA,965.1/DHEA,984.1/PEA,1002.8/DGLEA,1021.7/DEA,1041/SEA,1060.3/NADA,1079.3/OEA,1098.2/ETAEA,1116.9/EPEA}{
  \node[bx,hd=13.8] (na\i) at (1390,\yy) {\lab};
}
\node[cc] (cn1) at (1221.7,828.9) {};
\node[cc] (cn2) at (1223.4,999.2) {};
\begin{pgfonlayer}{bgl}
\coordinate (pcpe) at (1197.3,825.7);
\draw[rx] (pcpe) -- (DAGs.west);
\draw[cat] (plc.north) -- (cn1);
\coordinate (dgj) at (1309.4,825.7);
\draw[lnk] (DAGs.east) -- (dgj);
\draw[rxk] (dgj) |- (ag.west);
\draw[rx] (dgj) |- (og.west);
\draw[rxk] (dgj) |- (lg.west);
\coordinate (papi) at (1197.3,996.2);
\draw[rx] (papi) -- (NAPEs.west);
\draw[cat] (nat.north) -- (cn2);
\coordinate (npj) at (1309.4,995.9);
\draw[lnk] (NAPEs.east) -- (npj);
\foreach \i in {1,...,13}{\draw[rxk] (npj) |- (na\i.west);}
\end{pgfonlayer}
\end{tikzpicture}
\end{document}
